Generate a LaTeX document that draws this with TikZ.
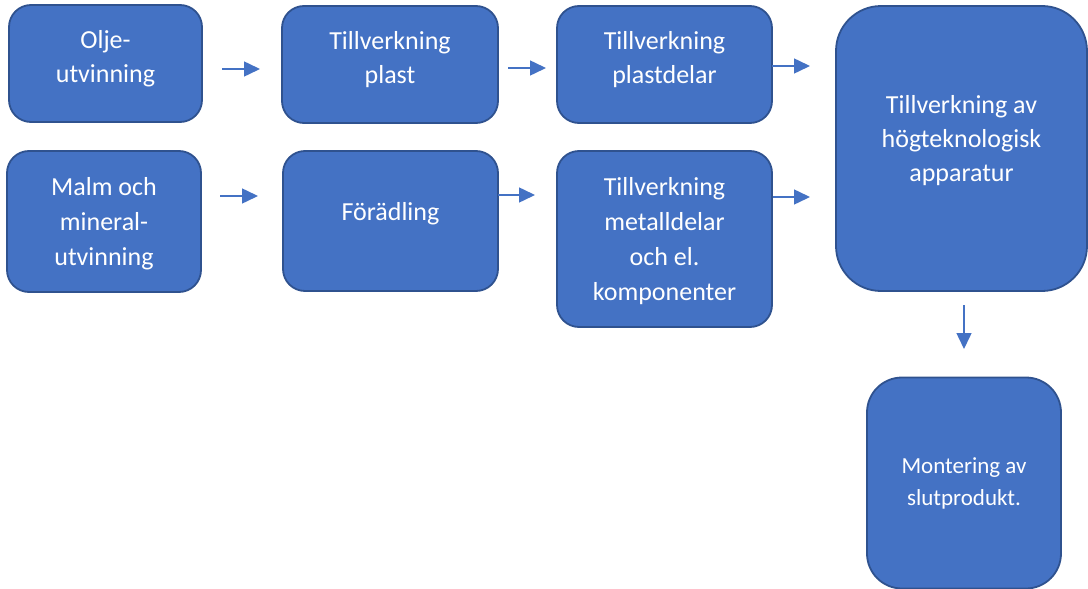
\documentclass[tikz,border=0pt]{standalone}
\usepackage{fontspec}
\setmainfont{Carlito}
\usepackage{tikz}
\usetikzlibrary{arrows.meta}
\definecolor{boxblue}{HTML}{4472C4}
\definecolor{boxedge}{HTML}{2F528F}

\begin{document}
\begin{tikzpicture}[x=1pt,y=-1pt,line join=round]
\tikzstyle{box} = [draw=boxedge,fill=boxblue,line width=1.8pt,rounded corners=22pt,text=white,align=center,inner sep=0pt,font=\fontsize{26}{34}\selectfont]
\tikzstyle{tall} = [font=\fontsize{26}{35}\selectfont]
\tikzstyle{flow} = [draw=boxblue,line width=1.5pt,-{Triangle[length=16pt,width=15pt]}]
\useasboundingbox (0,0) rectangle (1088,589);
% first row
\node[box,text depth=15pt,minimum width=193pt,minimum height=117pt] (olje) at (105.5,63.5) {Olje-\\utvinning};
\node[box,text depth=15pt,minimum width=216pt,minimum height=117pt] (plast) at (390,64.5) {Tillverkning\\plast};
\node[box,text depth=15pt,minimum width=215pt,minimum height=117pt] (plastdelar) at (664.5,64.5) {Tillverkning\\plastdelar};
\node[box,minimum width=251pt,minimum height=285pt,rounded corners=45pt] (apparatur) at (961.5,148.5) {};
\node[text=white,align=center,font=\fontsize{26}{34}\selectfont] (apptext) at (961.5,141)
     {Tillverkning av\\högteknologisk\\apparatur};
% second row
\node[box,tall,text depth=0pt,minimum width=194pt,minimum height=141pt] (malm) at (104,221.5) {Malm och\\mineral-\\utvinning};
\node[box,text depth=19pt,minimum width=215pt,minimum height=140pt] (foradling) at (390.5,221) {Förädling};
\node[box,tall,text depth=0pt,minimum width=215pt,minimum height=176pt] (metall) at (664.5,239) {Tillverkning\\metalldelar\\och el.\\komponenter};
% final step
\node[box,minimum width=194pt,minimum height=211pt,rounded corners=35pt,font=\fontsize{23}{32}\selectfont] (montering) at (964,483) {Montering av\\slutprodukt.};
% loose arrows between the boxes
\coordinate (o1) at (222,69);  \coordinate (o2) at (260,69);
\coordinate (p1) at (508,68);  \coordinate (p2) at (546,68);
\coordinate (d1) at (772,66);  \coordinate (d2) at (810,66);
\coordinate (m1) at (220,196); \coordinate (m2) at (258,196);
\coordinate (f1) at (498,195); \coordinate (f2) at (535,195);
\coordinate (k1) at (773,197); \coordinate (k2) at (810,197);
\coordinate (a1) at (964,305); \coordinate (a2) at (964,349);
\draw[flow] (o1) -- (o2);
\draw[flow] (p1) -- (p2);
\draw[flow] (d1) -- (d2);
\draw[flow] (m1) -- (m2);
\draw[flow] (f1) -- (f2);
\draw[flow] (k1) -- (k2);
\draw[flow] (a1) -- (a2);
\end{tikzpicture}
\end{document}
